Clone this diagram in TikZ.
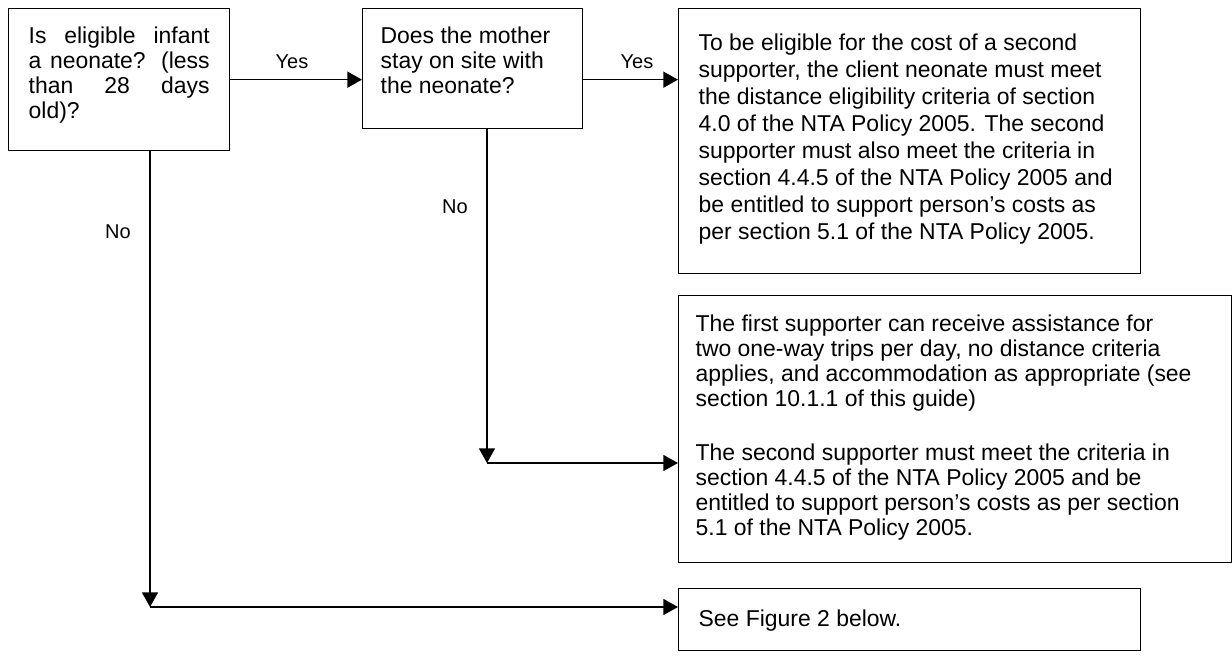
\documentclass[tikz,border=0pt]{standalone}
\usepackage{fontspec}
\setmainfont{Liberation Sans}
\usetikzlibrary{arrows.meta}
\newcommand{\cadre}[3]{\parbox[t][#2][t]{#1}{\strut#3}}

\begin{document}
\begin{tikzpicture}[x=0.75pt,y=-0.75pt,line width=1pt]
    \tikzset{boite/.style={draw, rectangle, anchor=north west, inner xsep=15pt, inner ysep=13.1pt, font=\fontsize{17.2}{18.75}\selectfont}}
    \tikzset{fleche/.style={-{Triangle[length=11pt,width=12pt]}, line width=1.1pt}}
    \tikzset{etiquette/.style={font=\fontsize{15}{18}\selectfont}}
    \useasboundingbox (0,0) rectangle (1232,656);
    \node[boite] (Q1) at (8,8) {\cadre{135.75pt}{80.3pt}{Is eligible infant\linebreak a neonate? (less\linebreak than 28 days\linebreak old)?}};
    \node[boite, inner xsep=13.5pt] (Q2) at (362,8) {\cadre{138pt}{63.8pt}{\raggedright Does the mother\\ stay on site with\\ the neonate?}};
    \node[boite, inner ysep=17.3pt, font=\fontsize{17.2}{20.25}\selectfont] (R1) at (678,8) {\cadre{316.5pt}{164.15pt}{\raggedright To be eligible for the cost of a second\\ supporter, the client neonate must meet\\ the distance eligibility criteria of section\\ 4.0 of the NTA Policy 2005. The second\\ supporter must also meet the criteria in\\ section 4.4.5 of the NTA Policy 2005 and\\ be entitled to support person’s costs as\\ per section 5.1 of the NTA Policy 2005.}};
    \node[boite, inner xsep=12.75pt, inner ysep=13.4pt] (R2) at (678,295) {\cadre{389.25pt}{173.45pt}{\raggedright The first supporter can receive assistance for\\ two one-way trips per day, no distance criteria\\ applies, and accommodation as appropriate (see\\ section 10.1.1 of this guide)\\[21.75pt] The second supporter must meet the criteria in\\ section 4.4.5 of the NTA Policy 2005 and be\\ entitled to support person’s costs as per section\\ 5.1 of the NTA Policy 2005.}};
    \node[boite, inner ysep=15pt] (R3) at (678,588) {\cadre{316.5pt}{16.5pt}{See Figure 2 below.}};
    \coordinate (c1) at (150,607);
    \coordinate (c2) at (487,463);
    \draw[fleche] (Q1.east) -- (Q1.east -| Q2.west);
    \draw[fleche] (Q2.east |- Q1.east) -- (Q1.east -| R1.west);
    \draw[fleche] (Q2.south -| c2) -- (c2);
    \draw[fleche] (c2) -- (c2 -| R2.west);
    \draw[fleche] (Q1.south -| c1) -- (c1);
    \draw[fleche] (c1) -- (c1 -| R3.west);
    \node[etiquette] (oui1) at (292,62) {Yes};
    \node[etiquette] (oui2) at (637,62) {Yes};
    \node[etiquette] (non2) at (455,207) {No};
    \node[etiquette] (non1) at (118,232) {No};
\end{tikzpicture}
\end{document}
